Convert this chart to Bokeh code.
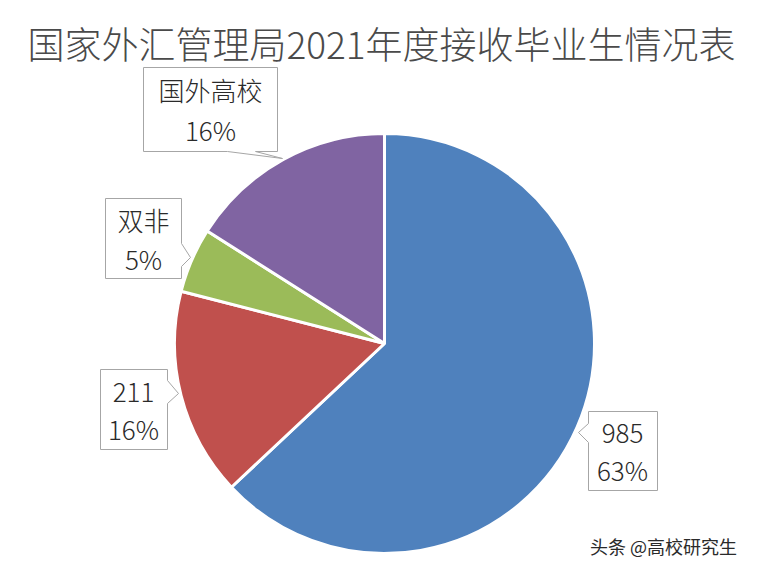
import math
from bokeh.plotting import figure
from bokeh.models import Range1d, ColumnDataSource
from bokeh.core.properties import value
from bokeh.embed import file_html
from bokeh.resources import INLINE

# ---- data ----
title_text = "国家外汇管理局2021年度接收毕业生情况表"
categories = ["985", "211", "双非", "国外高校"]
percents = [63, 16, 5, 16]
colors = ["#4F81BD", "#C0504D", "#9BBB59", "#8064A2"]
watermark = "头条 @高校研究生"

FONT = "Noto Sans CJK SC"
LIGHT = "'Noto Sans CJK SC Light', 'Noto Sans CJK SC'"
PAGE_H = 574

def Y(py):
    return PAGE_H - py

p = figure(width=742, height=558, output_backend="svg", toolbar_location=None,
           x_range=Range1d(0, 742), y_range=Range1d(16, 574), min_border=0)
p.axis.visible = False
p.grid.visible = False
p.outline_line_color = None
p.background_fill_color = "white"

# ---- pie ----
cx, cy, r = 384, Y(343), 210
total = sum(percents)
starts, ends = [], []
cum = 0
for v in percents:
    starts.append(math.pi / 2 - 2 * math.pi * cum / total)
    cum += v
    ends.append(math.pi / 2 - 2 * math.pi * cum / total)
src = ColumnDataSource(dict(start=starts, end=ends, color=colors))
p.wedge(x=cx, y=cy, radius=r, start_angle="start", end_angle="end",
        direction="clock", fill_color="color", line_color="white",
        line_width=3, source=src)

# ---- callout boxes (layout) ----
boxes = [
    [(588, 411), (657, 411), (657, 490), (588, 490), (588, 442), (578, 432), (588, 423)],
    [(100, 369), (167, 369), (167, 380), (178, 393), (167, 403), (167, 449), (100, 449)],
    [(105, 198), (181, 198), (181, 243), (190, 257), (181, 266), (181, 278), (105, 278)],
    [(143, 67), (277, 67), (277, 151), (255, 151), (282, 158), (227, 151), (143, 151)],
]
p.patches(xs=[[pt[0] for pt in b] for b in boxes],
          ys=[[Y(pt[1]) for pt in b] for b in boxes],
          fill_color="white", line_color="#A6A6A6", line_width=1)

label_pos = [(622, 433, 469), (133, 392, 428), (143, 219, 258), (210, 89, 129)]
lx, ly1, ly2, t1, t2 = [], [], [], [], []
for (x, a, b), c, v in zip(label_pos, categories, percents):
    lx.append(x); ly1.append(Y(a)); ly2.append(Y(b))
    t1.append(c); t2.append(f"{v}%")
p.text(x=lx, y=ly1, text=t1, text_font=value(LIGHT), text_font_size="26px",
       text_align="center", text_baseline="middle", text_color="#2a2a2a")
p.text(x=lx, y=ly2, text=t2, text_font=value(LIGHT), text_font_size="26px",
       text_align="center", text_baseline="middle", text_color="#2a2a2a")

# ---- title ----
p.text(x=[381], y=[Y(42)], text=[title_text], text_font=value(LIGHT),
       text_font_size="37px", text_align="center", text_baseline="middle",
       text_color="#4a4a4a")

# ---- watermark ----
p.text(x=[663], y=[Y(545)], text=[watermark], text_font=value(FONT),
       text_font_size="18px", text_align="center", text_baseline="middle",
       text_color="#2a2a2a")

open("out.html", "w").write(file_html(p, INLINE))
